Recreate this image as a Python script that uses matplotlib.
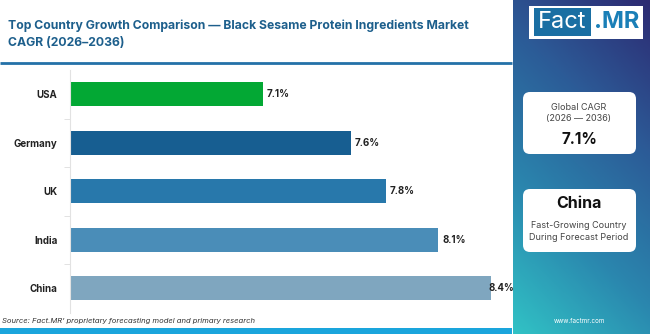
import numpy as np
import matplotlib
matplotlib.use('Agg')
import matplotlib.pyplot as plt
from matplotlib.colors import LinearSegmentedColormap
from matplotlib.patches import FancyBboxPatch, Rectangle

# data
countries = ['USA', 'Germany', 'UK', 'India', 'China']
cagr = [7.1, 7.6, 7.8, 8.1, 8.4]
bar_colors = ['#03a834', '#175e91', '#2878ab', '#4a8db8', '#7fa6bf']
title = 'Top Country Growth Comparison \u2014 Black Sesame Protein Ingredients Market\nCAGR (2026\u20132036)'
source = 'Source: Fact.MR\u2019 proprietary forecasting model and primary research'
global_cagr = '7.1%'
top_country = 'China'

plt.rcParams['font.family'] = ['Inter', 'DejaVu Sans']

W, H = 650, 334
fig = plt.figure(figsize=(W / 100, H / 100), dpi=100)
fig.patch.set_facecolor('white')

# overlay axes in pixel coords for the decorations
deco = fig.add_axes([0, 0, 1, 1])
deco.set_xlim(0, W)
deco.set_ylim(H, 0)
deco.axis('off')

# right side gradient panel
ny, nx = 200, 80
yy, xx = np.mgrid[0:1:ny * 1j, 0:1:nx * 1j]
t = 0.8 * (1 - yy) + 0.3 * xx
t = (t - t.min()) / (t.max() - t.min())
cmap = LinearSegmentedColormap.from_list('panel', ['#31c2c5', '#2a86ae', '#2c5b97', '#2d2a72'])
deco.imshow(t, cmap=cmap, extent=(513, W, H, 0), aspect='auto', origin='upper', zorder=0)

# logo
deco.add_patch(Rectangle((529, 6), 114, 33, facecolor='white', edgecolor='none', zorder=2))
deco.add_patch(Rectangle((534, 8), 57, 28, facecolor='#1a6fa3', edgecolor='none', zorder=3))
deco.text(562, 22.5, 'Fact', color='white', fontsize=17, ha='center', va='center', zorder=4)
deco.text(617, 22.5, '.MR', color='#1a7fb7', fontsize=17, ha='center', va='center',
          fontweight='bold', zorder=4)

# cards
for y0, y1 in [(92, 154), (189, 252)]:
    deco.add_patch(FancyBboxPatch((523, y0), 113, y1 - y0, boxstyle='round,pad=0,rounding_size=7',
                                  facecolor='white', edgecolor='none', zorder=2))
deco.text(579, 107, 'Global CAGR', fontsize=6.5, color='#444444', ha='center', va='center', zorder=3)
deco.text(579, 119, '(2026 \u2014 2036)', fontsize=6.5, color='#444444', ha='center', va='center', zorder=3)
deco.text(579, 140, global_cagr, fontsize=11, fontweight='bold', color='#111111', ha='center', va='center', zorder=3)
deco.text(579, 203, top_country, fontsize=11.5, fontweight='bold', color='#111111', ha='center', va='center', zorder=3)
deco.text(579, 225, 'Fast-Growing Country', fontsize=6.5, color='#444444', ha='center', va='center', zorder=3)
deco.text(579, 238, 'During Forecast Period', fontsize=6.5, color='#444444', ha='center', va='center', zorder=3)
deco.text(579, 321, 'www.factmr.com', fontsize=4.5, color='white', ha='center', va='center', zorder=3)

# title and rules
deco.text(8, 34, title, fontsize=8.8, fontweight='bold', color='#1d5f8c', ha='left', va='center',
          linespacing=1.6)
deco.plot([0, 512], [63, 63], color='#2471a8', lw=2, solid_capstyle='butt')
deco.add_patch(Rectangle((0, 328), 512, 6, facecolor='#1aa5dc', edgecolor='none'))
deco.text(2, 321, source, fontsize=5.5, style='italic', color='#333333', ha='left', va='center')

# bar chart
ax = fig.add_axes([70 / W, 1 - 312.5 / H, 442 / W, 242.5 / H])
ax.patch.set_alpha(0)
y = np.arange(len(countries))
ax.barh(y, [v - 6.0 for v in cagr], left=6.0, height=0.5, color=bar_colors)
ax.set_xlim(6.0, 8.52)
ax.set_ylim(len(countries) - 0.5, -0.5)
for i, v in enumerate(cagr):
    ax.text(min(v + 0.022, 8.388), i, f'{v:.1f}%', va='center', ha='left',
            fontsize=7, fontweight='bold', color='#222222')
ax.set_yticks(y)
ax.set_yticklabels(countries, fontsize=7, fontweight='bold', color='#222222')
ax.tick_params(axis='y', which='major', length=0, pad=9)
ax.set_yticks(np.arange(0.5, len(countries) - 0.5, 1), minor=True)
ax.tick_params(axis='y', which='minor', length=4, color='#dddddd')
ax.set_xticks([])
for s in ['top', 'right', 'bottom']:
    ax.spines[s].set_visible(False)
ax.spines['left'].set_color('#e2e2e2')

fig.savefig('out.png', dpi=100)
